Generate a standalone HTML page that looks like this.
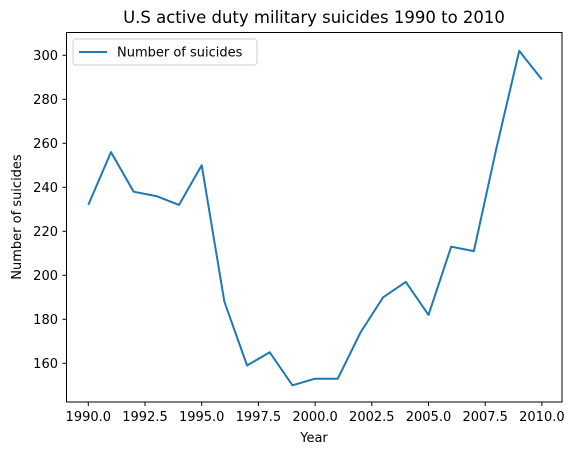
<!DOCTYPE html>
<html><head><meta charset="utf-8"><style>
body{margin:0;background:#fff;}
svg text{font-family:"DejaVu Sans","Liberation Sans",sans-serif;fill:#000;}
</style></head><body>
<svg id="chart" width="573" height="455" xmlns="http://www.w3.org/2000/svg">
<rect x="0" y="0" width="573" height="455" fill="#fff"/>
<text x="314" y="23" font-size="16.5" text-anchor="middle">U.S active duty military suicides 1990 to 2010</text>
<g id="xticks"></g>
<g id="yticks"></g>
<polyline id="line" fill="none" stroke="#1f77b4" stroke-width="2" stroke-linejoin="round"/>
<rect x="66.5" y="32.5" width="495.5" height="369.5" fill="none" stroke="#000" stroke-width="1"/>
<text x="314" y="442" font-size="13" text-anchor="middle">Year</text>
<text transform="translate(21,217) rotate(-90)" font-size="13" text-anchor="middle">Number of suicides</text>
<g>
<rect x="73" y="39" width="184" height="26" rx="3" fill="#fff" stroke="#ccc"/>
<line x1="79" y1="52" x2="107" y2="52" stroke="#1f77b4" stroke-width="2"/>
<text x="117" y="56.5" font-size="13">Number of suicides</text>
</g>
</svg>
<script>
const years=[1990,1991,1992,1993,1994,1995,1996,1997,1998,1999,2000,2001,2002,2003,2004,2005,2006,2007,2008,2009,2010];
const suicides=[232,256,238,236,232,250,188,159,165,150,153,153,174,190,197,182,213,211,258,302,289];
const xTickValues=[1990,1992.5,1995,1997.5,2000,2002.5,2005,2007.5,2010];
const yTickValues=[160,180,200,220,240,260,280,300];
const xs=v=>88.3+(v-1990)*22.68;
const ys=v=>363.3-(v-160)*2.2;
const ns="http://www.w3.org/2000/svg";
document.getElementById('line').setAttribute('points',years.map((y,i)=>xs(y)+','+ys(suicides[i])).join(' '));
const xg=document.getElementById('xticks');
xTickValues.forEach(v=>{
 const l=document.createElementNS(ns,'line');
 l.setAttribute('x1',xs(v));l.setAttribute('x2',xs(v));l.setAttribute('y1',402);l.setAttribute('y2',406);l.setAttribute('stroke','#000');
 
 
 xg.appendChild(l);
 const t=document.createElementNS(ns,'text');
 t.setAttribute('x',xs(v));t.setAttribute('y',421);t.setAttribute('font-size','13');t.setAttribute('text-anchor','middle');
 t.textContent=v.toFixed(1);
 
 
 xg.appendChild(t);
});
const yg=document.getElementById('yticks');
yTickValues.forEach(v=>{
 const l=document.createElementNS(ns,'line');
 l.setAttribute('x1',62.5);l.setAttribute('x2',66.5);l.setAttribute('y1',ys(v));l.setAttribute('y2',ys(v));l.setAttribute('stroke','#000');
 
 
 yg.appendChild(l);
 const t=document.createElementNS(ns,'text');
 t.setAttribute('x',58);t.setAttribute('y',ys(v)+4.7);t.setAttribute('font-size','13');t.setAttribute('text-anchor','end');
 t.textContent=v;
 
 
 yg.appendChild(t);
});
</script>
</body></html>
